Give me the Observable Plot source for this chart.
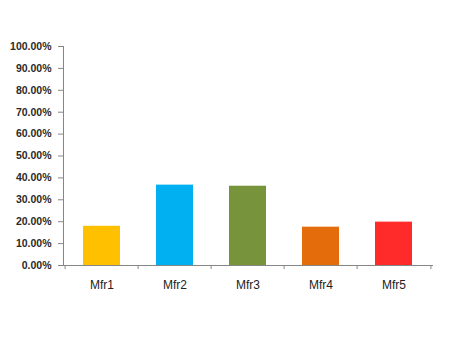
<!DOCTYPE html>
<html>
<head>
<meta charset="utf-8">
<script src="https://cdn.jsdelivr.net/npm/d3@7"></script>
<script src="https://cdn.jsdelivr.net/npm/@observablehq/plot@0.6"></script>
<style>
  html, body { margin: 0; padding: 0; background: #fff; }
  #chart svg { display: block; }
</style>
</head>
<body>
<div id="chart"></div>
<script>
const categories = ["Mfr1", "Mfr2", "Mfr3", "Mfr4", "Mfr5"];
const values = [0.179, 0.367, 0.362, 0.175, 0.198];
const colors = ["#FFC000", "#00B0F0", "#77933C", "#E46C0A", "#FF2A2A"];
const yTicks = [0, 0.1, 0.2, 0.3, 0.4, 0.5, 0.6, 0.7, 0.8, 0.9, 1.0];

const data = categories.map((c, i) => ({ cat: c, value: values[i], color: colors[i] }));

const W = 450, H = 338;
const mL = 63, mR = 18, mT = 46, mB = 73;
const step = (W - mL - mR) / categories.length;
const axisColor = "#868686";

const chart = Plot.plot({
  width: W,
  height: H,
  marginLeft: mL,
  marginRight: mR,
  marginTop: mT,
  marginBottom: mB,
  style: { fontFamily: "Liberation Sans, Arial, sans-serif", background: "#fff" },
  x: { domain: categories, paddingInner: 0.5, paddingOuter: 0.25 },
  y: { domain: [0, 1] },
  color: { type: "identity" },
  marks: [
    Plot.barY(data, { x: "cat", y: "value", fill: "color" }),
    Plot.frame({ anchor: "left", stroke: axisColor }),
    Plot.frame({ anchor: "bottom", stroke: axisColor }),
    Plot.axisY({
      ticks: yTicks,
      tickFormat: d3.format(".2%"),
      tickSize: 5,
      tickPadding: 7,
      stroke: axisColor,
      fill: "#2a2a2a",
      fontSize: 10.5,
      fontWeight: "bold",
      label: null
    }),
    Plot.axisX({ tickSize: 0, tickPadding: 15, fill: "#222", fontSize: 12, label: null }),
    Plot.axisX({ tickSize: 4, text: null, dx: -step / 2, stroke: axisColor, label: null }),
    Plot.axisX([categories[categories.length - 1]], { tickSize: 4, text: null, dx: step / 2, stroke: axisColor, label: null })
  ]
});
document.getElementById("chart").appendChild(chart);
</script>
</body>
</html>
